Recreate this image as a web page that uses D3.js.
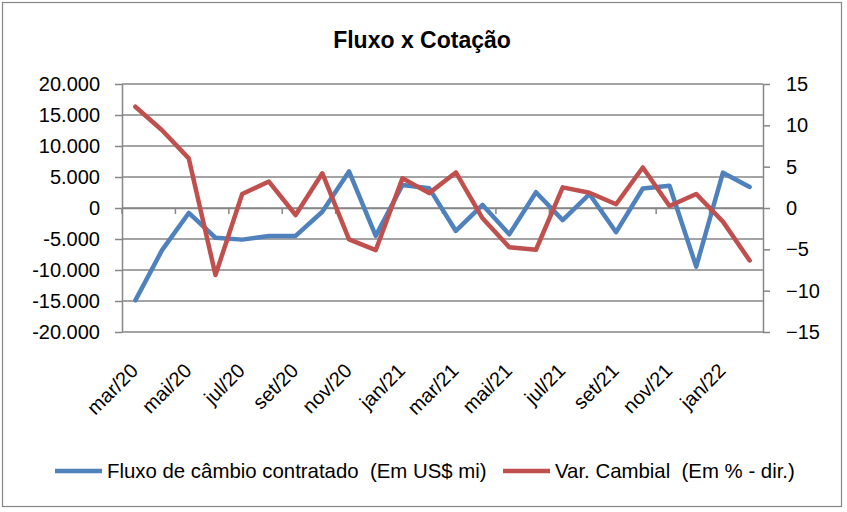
<!DOCTYPE html>
<html><head><meta charset="utf-8">
<script src="https://cdn.jsdelivr.net/npm/d3@7"></script>
<style>
html,body{margin:0;padding:0;background:#fff;}
text{font-family:"Liberation Sans",Arial,sans-serif;fill:#000;}
</style>
</head><body>
<svg id="chart" width="847" height="512"></svg>
<script>
const months = ["mar/20","abr/20","mai/20","jun/20","jul/20","ago/20","set/20","out/20","nov/20","dez/20",
  "jan/21","fev/21","mar/21","abr/21","mai/21","jun/21","jul/21","ago/21","set/21","out/21","nov/21","dez/21",
  "jan/22","fev/22"];
const fluxo = [-14900,-6800,-800,-4800,-5100,-4500,-4500,-600,5900,-4500,
  3700,3200,-3700,500,-4250,2550,-1950,2250,-3900,3150,3600,-9450,5700,3400];
const varCambial = [12.25,9.4,6.0,-8.1,1.7,3.2,-0.85,4.2,-3.8,-5.1,
  3.6,1.8,4.3,-1.25,-4.75,-5.05,2.5,1.85,0.45,4.9,0.25,1.7,-1.65,-6.35];
const leftTicks = [-20000,-15000,-10000,-5000,0,5000,10000,15000,20000];
const rightTicks = [-15,-10,-5,0,5,10,15];
const labelledMonths = months.filter((d,i)=>i%2===0);
const seriesNames = ["Fluxo de câmbio contratado  (Em US$ mi)","Var. Cambial  (Em % - dir.)"];
const colors = ["#4F81BD","#C0504D"];

const svg = d3.select("#chart");
const gridColor = "#868686";
const L = 122, R = 763, T = 84, B = 332;

// outer border
svg.append("rect").attr("x",2.5).attr("y",2.5).attr("width",839).attr("height",504)
  .attr("fill","#fff").attr("stroke",gridColor).attr("stroke-width",1.2);

const x = d3.scaleBand().domain(months).range([L,R]).paddingInner(0).paddingOuter(0);
const yL = d3.scaleLinear().domain([-20000,20000]).range([B,T]);
const yR = d3.scaleLinear().domain([-15,15]).range([B,T]);
const bw = x.bandwidth();
const cx = d => x(d) + bw/2;

const loc = d3.formatLocale({decimal:",",thousands:".",grouping:[3],currency:["",""],minus:"-"});
const fmt = loc.format(",.0f");

// gridlines
svg.append("g").selectAll("line").data(leftTicks).join("line")
  .attr("x1",L).attr("x2",R).attr("y1",d=>yL(d)).attr("y2",d=>yL(d))
  .attr("stroke",gridColor).attr("stroke-width",1.5);

// left axis
const gl = svg.append("g").attr("transform",`translate(${L},0)`)
  .call(d3.axisLeft(yL).tickValues(leftTicks).tickFormat(fmt).tickSize(7).tickPadding(15).tickSizeOuter(0));
gl.select(".domain").attr("stroke",gridColor).attr("stroke-width",1.5);
gl.selectAll(".tick line").attr("stroke",gridColor).attr("stroke-width",1.5);
gl.selectAll("text").attr("font-size",20).attr("font-family","Liberation Sans, Arial, sans-serif");

// right axis
const gr = svg.append("g").attr("transform",`translate(${R},0)`)
  .call(d3.axisRight(yR).tickValues(rightTicks).tickFormat(d3.format("d")).tickSize(7).tickPadding(16).tickSizeOuter(0));
gr.select(".domain").attr("stroke",gridColor).attr("stroke-width",1.5);
gr.selectAll(".tick line").attr("stroke",gridColor).attr("stroke-width",1.5);
gr.selectAll("text").attr("font-size",20).attr("font-family","Liberation Sans, Arial, sans-serif");

// x axis at zero with tick marks on category boundaries
const gx = svg.append("g").attr("transform",`translate(0,${yL(0)})`)
  .call(d3.axisBottom(x).tickValues(labelledMonths).tickSize(6).tickSizeOuter(0).tickFormat(""));
gx.select(".domain").attr("stroke",gridColor).attr("stroke-width",1.5);
gx.selectAll(".tick line").attr("stroke",gridColor).attr("stroke-width",1.5)
  .attr("transform",`translate(${-bw/2},0)`);

// category labels below plot
const gxl = svg.append("g").attr("transform",`translate(0,${B})`)
  .call(d3.axisBottom(x).tickValues(labelledMonths).tickSize(0));
gxl.select(".domain").remove();
gxl.selectAll("text").attr("font-size",20).attr("font-family","Liberation Sans, Arial, sans-serif")
  .attr("text-anchor","end").attr("x",0).attr("y",0).attr("dy",0)
  .attr("transform","translate(4,40) rotate(-45)");

// lines
const lineL = d3.line().x((d,i)=>cx(months[i])).y(d=>yL(d));
const lineR = d3.line().x((d,i)=>cx(months[i])).y(d=>yR(d));
svg.append("path").datum(fluxo).attr("d",lineL).attr("fill","none")
  .attr("stroke",colors[0]).attr("stroke-width",4.5).attr("stroke-linejoin","round").attr("stroke-linecap","round");
svg.append("path").datum(varCambial).attr("d",lineR).attr("fill","none")
  .attr("stroke",colors[1]).attr("stroke-width",4.5).attr("stroke-linejoin","round").attr("stroke-linecap","round");

// title
svg.append("text").attr("x",422).attr("y",48).attr("text-anchor","middle")
  .attr("font-size",23).attr("font-weight","bold").text("Fluxo x Cotação");

// legend
const legX = [55,503];
const lg = svg.append("g");
seriesNames.forEach((n,i)=>{
  lg.append("line").attr("x1",legX[i]).attr("x2",legX[i]+47).attr("y1",471).attr("y2",471)
    .attr("stroke",colors[i]).attr("stroke-width",4.5);
  lg.append("text").attr("x",legX[i]+52).attr("y",478).attr("font-size",20.4)
    .style("white-space","pre").text(n);
});
</script>
</body></html>
